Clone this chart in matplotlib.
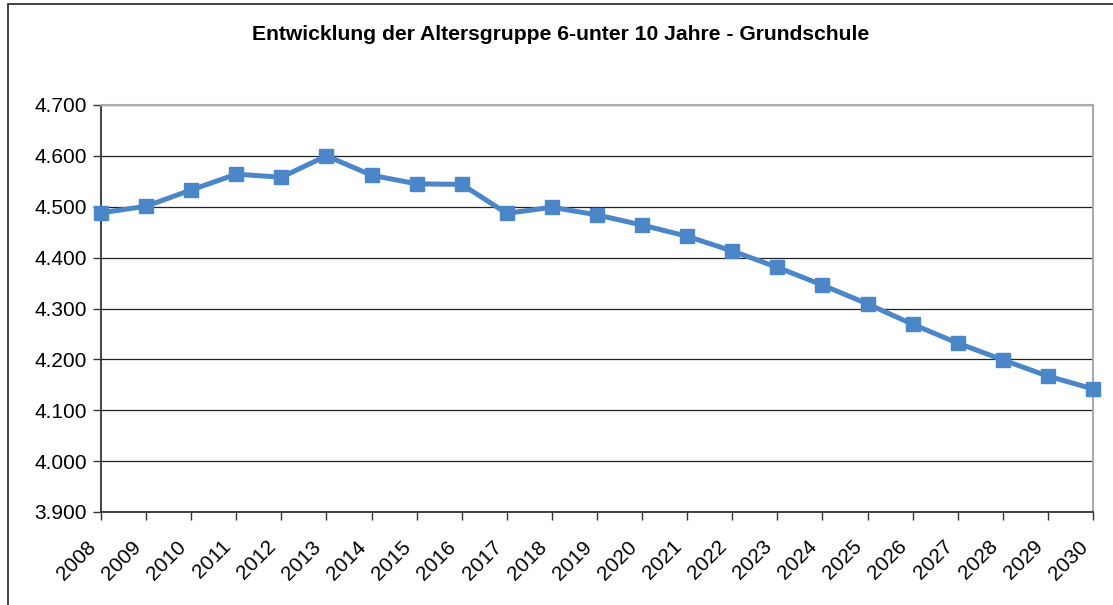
import matplotlib
matplotlib.use("Agg")
import matplotlib.pyplot as plt
from matplotlib.patches import Rectangle
from matplotlib.ticker import FuncFormatter, MultipleLocator
from matplotlib.transforms import ScaledTranslation

plt.rcParams['font.family'] = ['Liberation Sans', 'DejaVu Sans']

years = list(range(2008, 2031))
values = [4488, 4501, 4533, 4564, 4558, 4600, 4562, 4545, 4544, 4487, 4499,
          4484, 4464, 4442, 4413, 4381, 4346, 4309, 4269, 4232, 4199, 4167, 4142]
title = "Entwicklung der Altersgruppe 6-unter 10 Jahre - Grundschule"

fig = plt.figure(figsize=(11.13, 6.05), dpi=100)
ax = fig.add_axes([101 / 1113, 93 / 605, 992 / 1113, 407 / 605])

# outer chart frame
fig.patches.append(Rectangle((8 / 1113, -0.1), 1.2, (605 - 4) / 605 + 0.1,
                             transform=fig.transFigure, fill=False,
                             edgecolor='#222222', linewidth=1.2))

ax.plot(years, values, color='#4A86C8', linewidth=3.6, marker='s',
        markersize=9.5, markerfacecolor='#4A86C8', markeredgecolor='#4A86C8',
        clip_on=False, zorder=3)

ax.set_xlim(2008, 2030)
ax.set_ylim(3900, 4700)
ax.yaxis.set_major_locator(MultipleLocator(100))
ax.yaxis.set_major_formatter(FuncFormatter(lambda v, p: f"{int(v):,}".replace(",", ".")))
ax.set_xticks(years)
ax.set_xticklabels([str(y) for y in years], rotation=45, ha='right',
                   rotation_mode='anchor')
ax.grid(axis='y', color='#222222', linewidth=0.9)
ax.set_axisbelow(True)

for s in ['top', 'right']:
    ax.spines[s].set_color('#aaaaaa')
    ax.spines[s].set_linewidth(1.5)
for s in ['left', 'bottom']:
    ax.spines[s].set_color('#333333')
    ax.spines[s].set_linewidth(1.3)

ax.tick_params(axis='both', direction='out', length=6, width=1, color='#333333',
               labelsize=15, pad=4)
ax.tick_params(axis='x', pad=7)

# shift the rotated year labels a bit left and down, like the original
offset = ScaledTranslation(-15 / 100, -7 / 100, fig.dpi_scale_trans)
for lbl in ax.get_xticklabels():
    lbl.set_transform(lbl.get_transform() + offset)

fig.text(561 / 1113, 1 - 35 / 605, title, ha='center', va='center',
         fontsize=15.2, fontweight='bold')

fig.savefig("out.png", dpi=100)
